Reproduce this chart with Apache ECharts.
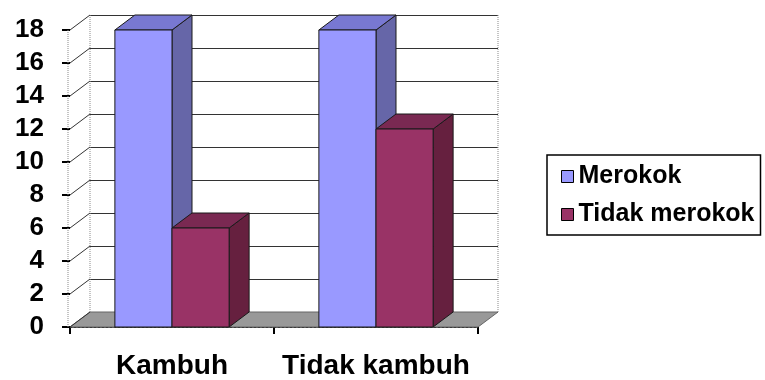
<!DOCTYPE html>
<html>
<head>
<meta charset="utf-8">
<script src="https://cdn.jsdelivr.net/npm/echarts@6/dist/echarts.min.js"></script>
<style>
html,body{margin:0;padding:0;background:#fff;}
#chart{width:765px;height:380px;}
</style>
</head>
<body>
<div id="chart"></div>
<script>
// data
var categories = ['Kambuh', 'Tidak kambuh'];
var merokok = [18, 18];
var tidakMerokok = [6, 12];
var yTicks = [0, 2, 4, 6, 8, 10, 12, 14, 16, 18];

// 3D offset of the back wall
var DX = 20, DY = -15;
var FONT = '"Liberation Sans", Arial, sans-serif';

var chart = echarts.init(document.getElementById('chart'));

function barRender(front, top, side, left) {
	return function (params, api) {
		var cat = api.value(0), v = api.value(1);
		var base = api.coord([cat, 0]);
		var tp = api.coord([cat, v]);
		var w = api.size([1, 0])[0] * 0.28;
		var x0 = left ? base[0] - w : base[0];
		var x1 = x0 + w;
		var yb = base[1], yt = tp[1];
		var ln = {stroke: '#1a1a1a', lineWidth: 1};
		return {
			type: 'group',
			children: [
				{type: 'polygon', shape: {points: [[x1, yt], [x1 + DX, yt + DY], [x1 + DX, yb + DY], [x1, yb]]},
					style: Object.assign({fill: side}, ln)},
				{type: 'polygon', shape: {points: [[x0, yt], [x1, yt], [x1 + DX, yt + DY], [x0 + DX, yt + DY]]},
					style: Object.assign({fill: top}, ln)},
				{type: 'rect', shape: {x: x0, y: yt, width: w, height: yb - yt},
					style: Object.assign({fill: front}, ln)}
			]
		};
	};
}

function frameRender(params, api) {
	var cs = params.coordSys;
	var x0 = cs.x, x1 = cs.x + cs.width;
	var p = api.coord([0, api.value(0)]);
	var y = p[1];
	var dash = {stroke: '#888', lineWidth: 1, lineDash: [1, 1]};
	var children = [
		{type: 'line', shape: {x1: x0, y1: y, x2: x0 + DX, y2: y + DY}, style: {stroke: '#333', lineWidth: 1}}
	];
	if (params.dataIndex === 0) {
		var yTop = api.coord([0, yTicks[yTicks.length - 1]])[1];
		children.unshift(
			{type: 'polygon', shape: {points: [[x0, y], [x1, y], [x1 + DX, y + DY], [x0 + DX, y + DY]]},
				style: {fill: '#999999', stroke: '#666', lineWidth: 1}},
			{type: 'line', shape: {x1: x0 - 2, y1: yTop, x2: x0 - 2, y2: y}, style: dash},
			{type: 'line', shape: {x1: x0 + DX, y1: yTop + DY, x2: x0 + DX, y2: y + DY}, style: dash},
			{type: 'line', shape: {x1: x1 + DX, y1: yTop + DY, x2: x1 + DX, y2: y + DY}, style: dash}
		);
	}
	return {type: 'group', children: children};
}

var option = {
	animation: false,
	backgroundColor: '#fff',
	grid: [
		{left: 70, top: 30, width: 408, height: 297},
		{left: 70 + DX, top: 30 + DY, width: 408, height: 297}
	],
	legend: {
		orient: 'vertical',
		left: 547, top: 155,
		padding: [9, 6, 8, 14],
		itemGap: 13,
		itemWidth: 12, itemHeight: 12,
		borderColor: '#000', borderWidth: 1.5,
		icon: 'rect',
		itemStyle: {borderColor: '#000', borderWidth: 1},
		textStyle: {fontFamily: FONT, fontWeight: 'bold', fontSize: 25, color: '#000'},
		data: ['Merokok', 'Tidak merokok']
	},
	xAxis: [
		{type: 'category', gridIndex: 0, data: categories, boundaryGap: true,
			axisLine: {lineStyle: {color: '#111', type: 'dotted', width: 2}},
			axisTick: {show: true, interval: 0, length: 7, lineStyle: {color: '#000', width: 2}},
			axisLabel: {interval: 0, margin: 25, fontFamily: FONT, fontWeight: 'bold', fontSize: 28, color: '#000'}},
		{type: 'category', gridIndex: 1, data: categories, show: false}
	],
	yAxis: [
		{type: 'value', gridIndex: 0, min: 0, max: 18, interval: 2,
			axisLine: {show: false},
			axisTick: {show: true, length: 8, lineStyle: {color: '#000', width: 2}},
			splitLine: {show: false},
			axisLabel: {margin: 26, fontFamily: FONT, fontWeight: 'bold', fontSize: 26, color: '#000'}},
		{type: 'value', gridIndex: 1, min: 0, max: 18, interval: 2,
			axisLine: {show: false}, axisTick: {show: false}, axisLabel: {show: false},
			splitLine: {show: true, lineStyle: {color: '#333', width: 1}}}
	],
	series: [
		{type: 'custom', name: 'frame', xAxisIndex: 0, yAxisIndex: 0, silent: true,
			data: yTicks.map(function (t) { return [t]; }),
			encode: {y: 0},
			renderItem: frameRender},
		{type: 'custom', name: 'Merokok', xAxisIndex: 0, yAxisIndex: 0,
			itemStyle: {color: '#9999FF'},
			data: merokok.map(function (v, i) { return [i, v]; }),
			encode: {x: 0, y: 1},
			renderItem: barRender('#9999FF', '#7878D2', '#6666A8', true)},
		{type: 'custom', name: 'Tidak merokok', xAxisIndex: 0, yAxisIndex: 0,
			itemStyle: {color: '#993366'},
			data: tidakMerokok.map(function (v, i) { return [i, v]; }),
			encode: {x: 0, y: 1},
			renderItem: barRender('#993366', '#7A2952', '#66203F', false)}
	]
};
chart.setOption(option);
</script>
</body>
</html>
